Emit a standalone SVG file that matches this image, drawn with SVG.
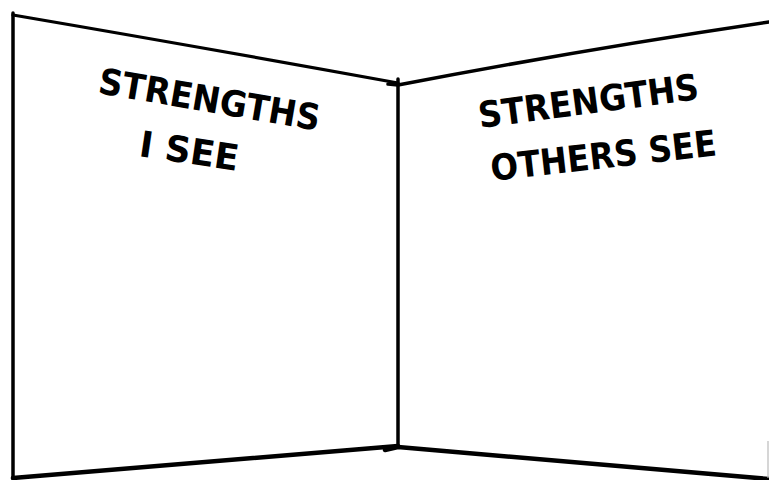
<svg xmlns="http://www.w3.org/2000/svg" width="769" height="480" viewBox="0 0 769 480">
<style>
.ln{fill:none;stroke:#000;stroke-linecap:round;stroke-linejoin:round}
.lbl{font-family:"DejaVu Sans","Liberation Sans",sans-serif;font-weight:bold;font-size:36px;fill:#000}
</style>
<rect width="769" height="480" fill="#fff"/>
<g id="left-panel">
<path class="ln" stroke-width="3.5" d="M13,13 L13,478"/>
<path class="ln" stroke-width="3.2" d="M13,15 Q200,47 398,83"/>
<path class="ln" stroke-width="4.5" d="M13,478 L398,446"/>
<text class="lbl" transform="translate(97,93) rotate(9.7)" textLength="224" lengthAdjust="spacingAndGlyphs">STRENGTHS</text>
<text class="lbl" transform="translate(138,156) rotate(8.5)" textLength="100" lengthAdjust="spacingAndGlyphs">I SEE</text>
</g>
<g id="right-panel">
<path class="ln" stroke-width="3.5" d="M398,79 L398,447"/>
<path class="ln" stroke-width="3.5" d="M388,84 L398,85 Q580,50 769,22"/>
<path class="ln" stroke-width="4.5" d="M385,450 L398,447 L769,479"/>
<path fill="none" stroke="#bbb" stroke-width="1.2" d="M768,441 L768,478"/>
<text class="lbl" transform="translate(480,128) rotate(-7.5)" textLength="222" lengthAdjust="spacingAndGlyphs">STRENGTHS</text>
<text class="lbl" transform="translate(492,181) rotate(-6.5)" textLength="227" lengthAdjust="spacingAndGlyphs">OTHERS SEE</text>
</g>
</svg>
